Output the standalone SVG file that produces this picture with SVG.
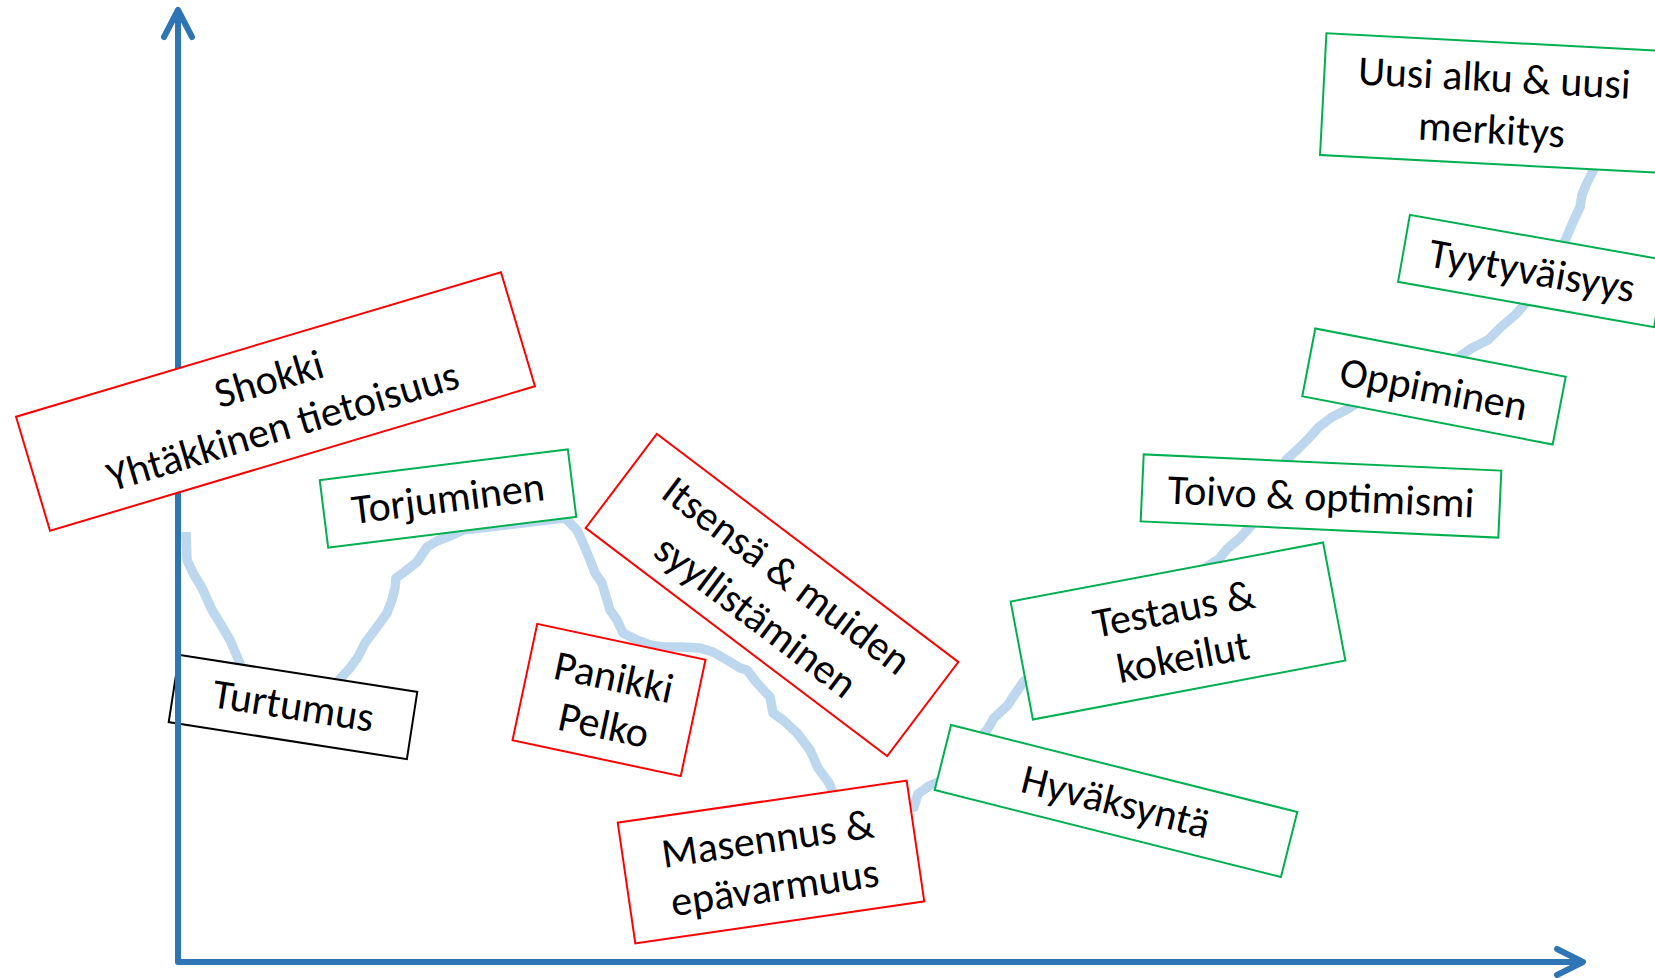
<svg xmlns="http://www.w3.org/2000/svg" width="1655" height="978" viewBox="0 0 1655 978">
<style>
.box{fill:#fff;stroke-width:2}
.red{stroke:#FF0000}
.green{stroke:#00B050}
.black{stroke:#000}
.t{font-family:Carlito,Lato,"Open Sans",sans-serif;font-size:42px;fill:#000;text-anchor:middle;dominant-baseline:central}
.curve{fill:none;stroke:#BDD7EE;stroke-width:9.5;stroke-linejoin:round;stroke-linecap:butt}
.axis{fill:none;stroke:#2E75B6;stroke-width:6;stroke-linecap:round;stroke-linejoin:round}
</style>
<rect width="1655" height="978" fill="#fff"/>
<g id="connectors">
<polyline class="curve" points="186,532 187,560 193,573 202,588 212,610 220,623 230,640 245,675 330,690 350,668 358,657 365,643 377,627 387,613 392,600 395,588 396,578 403,573 417,562 423,553 427,547 437,541 450,536 463,530 565,518 577,530 583,543 590,560 595,573 602,583 607,600 610,610 617,620 623,633 637,640 650,645 663,647 680,647 700,648 713,652 727,660 740,668 747,670 757,683 770,697 773,713 783,720 797,733 810,750 818,768 829,783 834,795 914,807 918,794 929,786 940,781 987,730 994,718 1008,705 1013,697 1024,681 1219,559 1227,549 1240,538 1249,528 1256,521 1286,460 1298,449 1309,438 1319,427 1332,417 1346,410 1356,404 1459,357 1472,348 1488,340 1501,327 1515,315 1525,304 1565,241 1573,222 1580,207 1582,195 1586,185 1594,169 1598,161"/>
</g>
<g id="turtumus" transform="translate(293,707) rotate(8.8)">
<rect class="box black" x="-120.5" y="-34" width="241" height="68"/>
<text class="t" x="0" y="-2">Turtumus</text>
</g>
<g id="axes">
<polyline class="axis" points="178,14 178,962 1581,962"/>
<polyline class="axis" points="164,37 178,10 192,37"/>
<polyline class="axis" points="1557,949 1583,962 1557,975"/>
</g>
<g id="shokki" transform="translate(275.5,401.5) rotate(-16.6)">
<rect class="box red" x="-253" y="-59.5" width="506" height="119"/>
<text class="t" x="0" y="-24">Shokki</text>
<text class="t" x="0" y="25">Yhtäkkinen tietoisuus</text>
</g>
<g id="torjuminen" transform="translate(448,498.5) rotate(-7.1)">
<rect class="box green" x="-125" y="-34" width="250" height="68"/>
<text class="t" x="0" y="-1">Torjuminen</text>
</g>
<g id="itsensa" transform="translate(772,595) rotate(37.1)">
<rect class="box red" x="-189" y="-59" width="378" height="118"/>
<text class="t" x="0" y="-25">Itsensä &amp; muiden</text>
<text class="t" x="0" y="26">syyllistäminen</text>
</g>
<g id="panikki" transform="translate(609,700) rotate(12)">
<rect class="box red" x="-86" y="-59.5" width="172" height="119"/>
<text class="t" x="0" y="-24">Panikki</text>
<text class="t" x="0" y="25">Pelko</text>
</g>
<g id="masennus" transform="translate(771,862) rotate(-8.3)">
<rect class="box red" x="-146" y="-61" width="292" height="122"/>
<text class="t" x="0" y="-24">Masennus &amp;</text>
<text class="t" x="0" y="25">epävarmuus</text>
</g>
<g id="hyvaksynta" transform="translate(1116,801) rotate(14.1)">
<rect class="box green" x="-178.5" y="-33.5" width="357" height="67"/>
<text class="t" x="0" y="0">Hyväksyntä</text>
</g>
<g id="testaus" transform="translate(1178,631) rotate(-10.7)">
<rect class="box green" x="-159" y="-60" width="318" height="120"/>
<text class="t" x="0" y="-23">Testaus &amp;</text>
<text class="t" x="0" y="26">kokeilut</text>
</g>
<g id="toivo" transform="translate(1321,496) rotate(2.6)">
<rect class="box green" x="-179" y="-33.5" width="358" height="67"/>
<text class="t" x="0" y="0">Toivo &amp; optimismi</text>
</g>
<g id="oppiminen" transform="translate(1434,386.5) rotate(10.9)">
<rect class="box green" x="-127.5" y="-34.5" width="255" height="69"/>
<text class="t" x="0" y="2">Oppiminen</text>
</g>
<g id="tyytyvaisyys" transform="translate(1532,271) rotate(10)">
<rect class="box green" x="-130" y="-34" width="260" height="68"/>
<text class="t" x="0" y="-1">Tyytyväisyys</text>
</g>
<g id="uusi" transform="translate(1493,103) rotate(3)">
<rect class="box green" x="-170" y="-61" width="340" height="122"/>
<text class="t" x="0" y="-26">Uusi alku &amp; uusi</text>
<text class="t" x="0" y="26">merkitys</text>
</g>
</svg>
